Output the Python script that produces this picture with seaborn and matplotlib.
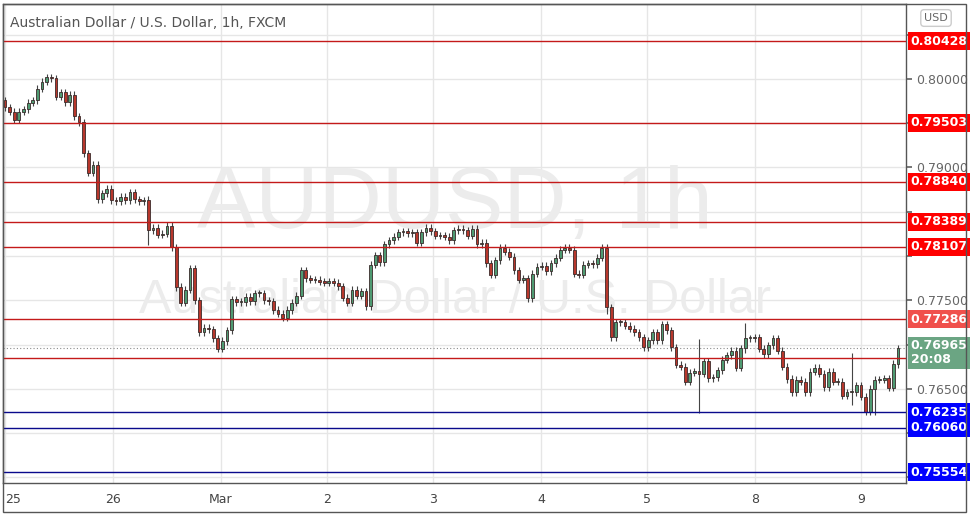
import numpy as np
import pandas as pd
import seaborn as sns
import matplotlib.pyplot as plt
import matplotlib.transforms as mtransforms

sns.set_theme(style="white")
plt.rcParams['font.family'] = ['DejaVu Sans']

# hourly closes, AUD/USD, 25 Feb - 9 Mar
first_open = 0.7976
closes = [
    .7968, .7963, .7954, .7963, .7966, .7973, .7976, .7989, .7997, .8002, .8001, .7980,
    .7985, .7974, .7982, .7958, .7951, .7916, .7894, .7903, .7864, .7871, .7876, .7863,
    .7862, .7867, .7863, .7872, .7864, .7862, .7863, .7829, .7832, .7824, .7825, .7834,
    .7810, .7765, .7747, .7762, .7786, .7750, .7714, .7719, .7717, .7707, .7695, .7704,
    .7716, .7751,
    .7748, .7748, .7754, .7749, .7758, .7758, .7750, .7749, .7739, .7735, .7730, .7739,
    .7747, .7755, .7784, .7775, .7773, .7773, .7771, .7770, .7771, .7770, .7766, .7753,
    .7747, .7762, .7755, .7760, .7743,
    .7790, .7801, .7793, .7813, .7818, .7822, .7827, .7828, .7826, .7827, .7815, .7827,
    .7832, .7828, .7823, .7823, .7822, .7818, .7829, .7831, .7829, .7823, .7831, .7813,
    .7815, .7792, .7779, .7795, .7809, .7805, .7799, .7784, .7773, .7775, .7752, .7780,
    .7788, .7789, .7783, .7792, .7798, .7807, .7809, .7807, .7780, .7779, .7790, .7792,
    .7791, .7798, .7809, .7742, .7708, .7725,
    .7725, .7721, .7718, .7714, .7708, .7697, .7705, .7714, .7705, .7723, .7716, .7697,
    .7677, .7675, .7658, .7668, .7670, .7667, .7681, .7662, .7663, .7671, .7683, .7688,
    .7693, .7674, .7696, .7707, .7707, .7708, .7695, .7689, .7699, .7707, .7693, .7675,
    .7661, .7646, .7660, .7658, .7646, .7669, .7674, .7667, .7652, .7669, .7658, .7658,
    .7642, .7646, .7646, .7654, .7641, .7624, .7650, .7660, .7660, .7662, .7651, .7678,
    .7696,
]
# a few candles with long wicks: index -> (high, low)
long_wicks = {9: (0.8006, 0.7995), 31: (0.7868, 0.7812), 37: (0.7810, 0.7760),
              130: (0.7812, 0.7735), 150: (0.7706, 0.7623), 160: (0.7724, 0.7690),
              183: (0.7690, 0.7632), 188: (0.7662, 0.7620)}

day_labels = ["25", "26", "Mar", "2", "3", "4", "5", "8", "9"]
day_px = [5, 113, 221, 327, 433, 541, 647, 755, 861]

red_levels = [0.80428, 0.79503, 0.78840, 0.78389, 0.78107, 0.77286, 0.76845]
blue_levels = [0.76235, 0.76060, 0.75554]
last_price = 0.76965

df = pd.DataFrame({"close": closes})
df["open"] = [first_open] + closes[:-1]
wick = 0.0004
df["high"] = df[["open", "close"]].max(axis=1) + wick
df["low"] = df[["open", "close"]].min(axis=1) - wick
for i, (h, l) in long_wicks.items():
    if i < len(df):
        df.loc[i, "high"] = max(h, df.loc[i, "high"])
        df.loc[i, "low"] = min(l, df.loc[i, "low"])
df["up"] = df["close"] >= df["open"]
n = len(df)

fig = plt.figure(figsize=(9.72, 5.16), dpi=100)
ax = fig.add_axes([3 / 972, 33 / 516, 903 / 972, 479 / 516])

# pixel span: first candle at x=5, last at x=898 inside an axes of 903 px
step = 893 / (n - 1)
x0 = -2 / step
ax.set_xlim(x0, x0 + 903 / step)
ymin = 0.80 - (483 - 79) / 8850
ymax = 0.80 + (79 - 4) / 8850
ax.set_ylim(ymin, ymax)

day_pos = [(p - 5) / step for p in day_px]
for p in day_pos:
    ax.axvline(p, color="#e6e6e6", lw=1, zorder=0)
ticks = np.arange(0.755, 0.8051, 0.005)
for t in ticks:
    ax.axhline(t, color="#e6e6e6", lw=1, zorder=0)

# watermark
ax.text(0.5, 0.58, "AUDUSD, 1h", transform=ax.transAxes, ha="center", va="center",
        fontsize=63, color="#ececec", zorder=0, family=["Liberation Sans", "DejaVu Sans"])
ax.text(0.5, 0.382, "Australian Dollar / U.S. Dollar", transform=ax.transAxes, ha="center",
        va="center", fontsize=35, color="#ececec", zorder=0,
        family=["Liberation Sans", "DejaVu Sans"])

up_c, dn_c, edge = "#4f9a72", "#b7372c", "#3a2a2a"
colors = np.where(df["up"], up_c, dn_c)
ax.vlines(df.index, df["low"], df["high"], color="#444444", lw=0.8, zorder=2)
body = (df["close"] - df["open"]).abs().clip(lower=0.00012)
ax.bar(df.index, body, bottom=df[["open", "close"]].min(axis=1), width=0.6,
       color=colors, edgecolor=edge, linewidth=0.6, zorder=3)

ax.axhline(last_price, color="#8a8a8a", lw=0.8, ls=(0, (1, 2)), zorder=1)
for lv in red_levels:
    ax.axhline(lv, color="#c41a1a", lw=1, zorder=4)
for lv in blue_levels:
    ax.axhline(lv, color="#0a0a8c", lw=1, zorder=4)

# right price axis; labels hidden where a level box covers them
all_levels = red_levels + blue_levels + [last_price - 0.0006]
ax.yaxis.tick_right()
ax.set_yticks(ticks)
ax.set_yticklabels([f"{t:.5f}" if min(abs(t - lv) for lv in all_levels) > 0.0014 else ""
                    for t in ticks], fontsize=9, color="#666666")
ax.tick_params(axis="y", length=4, color="#666666", pad=3)
ax.set_xticks(day_pos)
ax.set_xticklabels(day_labels, fontsize=9, color="#444444")
ax.get_xticklabels()[0].set_ha("left")
ax.tick_params(axis="x", length=4, color="#666666", pad=3)
for s in ax.spines.values():
    s.set_color("#555555")
    s.set_linewidth(1)

trans = mtransforms.blended_transform_factory(ax.transAxes, ax.transData)
def price_box(y, txt, fc):
    ax.text(1.005, y, txt, transform=trans, ha="left", va="center", fontsize=9,
            fontweight="bold", color="white", clip_on=False, zorder=10,
            bbox=dict(boxstyle="square,pad=0.2", fc=fc, ec="none"))

for lv in red_levels:
    fc = "#f0504c" if lv in (0.77286, 0.76845) else "#ff0000"
    price_box(lv, f"{lv:.5f}", fc)
for lv in blue_levels:
    price_box(lv, f"{lv:.5f}", "#0000ff")
ax.text(1.005, last_price - 0.0006, f"{last_price:.5f}\n20:08", transform=trans, ha="left",
        va="center", fontsize=9, fontweight="bold", color="white", clip_on=False,
        zorder=11, linespacing=1.1,
        bbox=dict(boxstyle="square,pad=0.2", fc="#6ba583", ec="none"))

# outer frame for the price scale
fig.patches.append(plt.Rectangle((3 / 972, 4 / 516), 963 / 972, 508 / 516, fill=False,
                                 ec="#555555", lw=1, transform=fig.transFigure))
fig.text(936 / 972, 1 - 18 / 516, "USD", ha="center", va="center", fontsize=8,
         color="#666666", bbox=dict(boxstyle="round,pad=0.3", fc="white", ec="#cccccc"))
ax.text(0.008, 0.975, "Australian Dollar / U.S. Dollar, 1h, FXCM", transform=ax.transAxes,
        ha="left", va="top", fontsize=10, color="#555555", zorder=12)

fig.savefig("out.png", dpi=100)
